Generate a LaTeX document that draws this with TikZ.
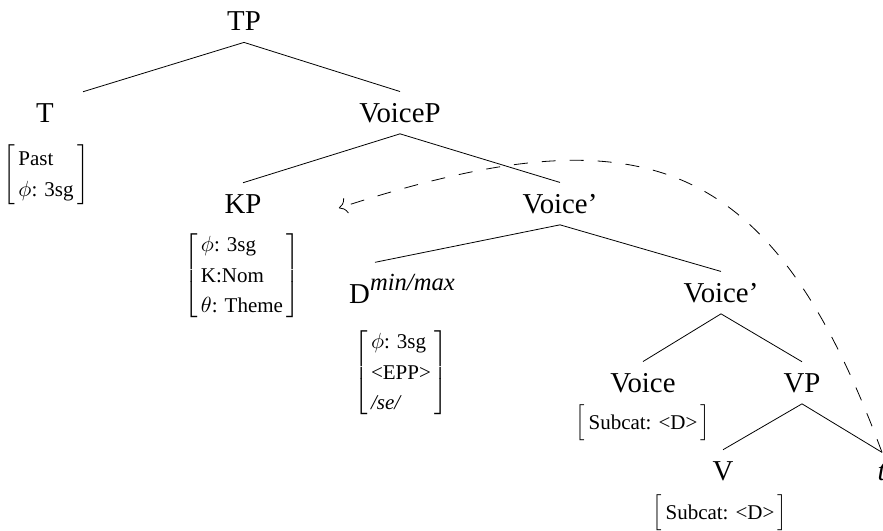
\documentclass[tikz,border=0pt]{standalone}
\usepackage{fontspec}
\setmainfont{Liberation Serif}
\usetikzlibrary{arrows.meta}

\newcommand{\featbox}[1]{$\left[\begin{tabular}{@{\,}l@{\,}}#1\end{tabular}\right]$}

\begin{document}
\begin{tikzpicture}[x=0.5pt,y=-0.5pt,
  cat/.style={font=\fontsize{14.4}{17}\selectfont, inner xsep=0pt, inner ysep=5.5pt, anchor=base},
  feat/.style={font=\fontsize{10.5}{15.3}\selectfont, inner sep=0pt},
  move/.style={-{To[length=4pt,width=8pt]}, dash pattern=on 7pt off 7pt}]
  \useasboundingbox (0,0) rectangle (883,530);

  % Category labels
  \node[cat] (TP) at (244,31) {TP};
  \node[cat] (T) at (45,122) {T};
  \node[cat] (VoiceP) at (400,122) {VoiceP};
  \node[cat] (KP) at (243,213) {KP};
  \node[cat] (VoiceBar) at (560,213) {Voice'};
  \node[cat] (D) at (402,303) {D\raisebox{6.5pt}{\fontsize{12.3}{14}\selectfont\itshape min/max}};
  \node[cat] (VoiceBarLow) at (721,302) {Voice'};
  \node[cat] (Voice) at (643,392) {Voice};
  \node[cat] (VP) at (802,392) {VP};
  \node[cat] (V) at (723,480) {V};
  \node[cat] (t) at (882,480) {\textit{t}};

  % Feature matrices
  \node[feat] (Tfeat) at (46,175) {\featbox{Past\\$\phi$: 3sg}};
  \node[feat] (KPfeat) at (242,276) {\featbox{$\phi$: 3sg\\K:Nom\\$\theta$: Theme}};
  \node[feat] (Dfeat) at (401,373) {\featbox{$\phi$: 3sg\\<EPP>\\\textit{/se/}}};
  \node[feat] (Voicefeat) at (643,423) {\featbox{Subcat: <D>}};
  \node[feat] (Vfeat) at (720,513) {\featbox{Subcat: <D>}};

  % Branches
  \draw (TP.south) -- ([xshift=19pt]T.north);
  \draw (TP.south) -- (VoiceP.north);
  \draw (VoiceP.south) -- (KP.north);
  \draw (VoiceP.south) -- (VoiceBar.north);
  \draw (VoiceBar.south) -- ([xshift=-13.5pt]D.north);
  \draw (VoiceBar.south) -- (VoiceBarLow.north);
  \draw (VoiceBarLow.south) -- (Voice.north);
  \draw (VoiceBarLow.south) -- (VP.north);
  \draw (VP.south) -- (V.north);
  \draw (VP.south) -- (t.north);

  % Movement of the KP
  \draw[move] (t.north) .. controls (770,150) and (640,110) .. ([xshift=38.5pt,yshift=-2.25pt]KP.east);
\end{tikzpicture}
\end{document}
